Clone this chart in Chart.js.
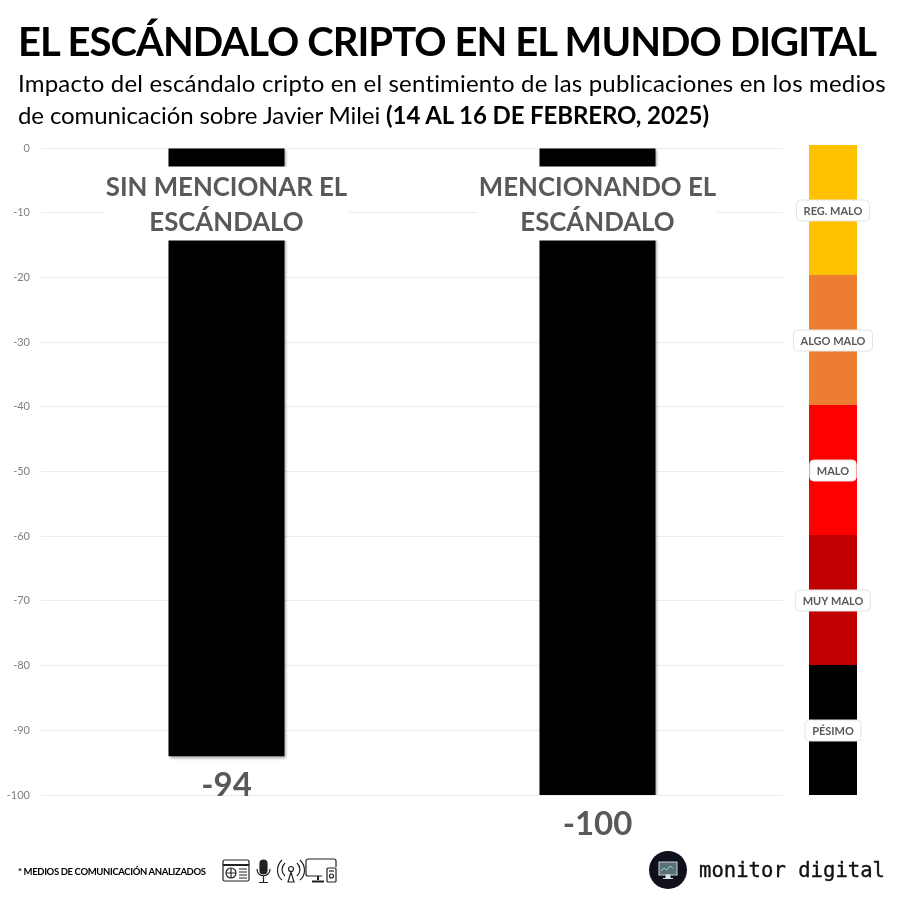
<!DOCTYPE html>
<html><head><meta charset="utf-8">
<script src="https://cdn.jsdelivr.net/npm/chart.js@4/dist/chart.umd.min.js"></script>
<style>
html,body{margin:0;padding:0;background:#fff;width:900px;height:900px;overflow:hidden}
.t{position:absolute;white-space:nowrap;font-family:Lato,sans-serif;color:#000;line-height:1}
canvas{position:absolute}
#wrapMain{position:absolute;left:0;top:0;width:900px;height:900px}
#wrapBand{position:absolute;left:790px;top:0;width:86px;height:900px}
</style></head><body>
<div id="wrapMain"><canvas id="main"></canvas></div>
<div id="wrapBand"><canvas id="band"></canvas></div>
<div class="t fit" data-w="859" style="left:18px;top:21px;font-size:40px;font-weight:700">EL ESCÁNDALO CRIPTO EN EL MUNDO DIGITAL</div>
<div class="t fit" data-w="868" style="left:18px;top:71px;font-size:24px">Impacto del escándalo cripto en el sentimiento de las publicaciones en los medios</div>
<div class="t fit" data-w="691" style="left:18px;top:103px;font-size:24px">de comunicación sobre Javier Milei <b>(14 AL 16 DE FEBRERO, 2025)</b></div>
<div class="t fit" data-w="188" style="left:18px;top:867px;font-size:9.500px;font-weight:700">* MEDIOS DE COMUNICACIÓN ANALIZADOS</div>
<svg style="position:absolute;left:222px;top:858px" width="116" height="26" viewBox="0 0 116 26" fill="none" stroke="#222" stroke-width="1.2">
  <rect x="1" y="2" width="26" height="21" rx="1.5"/><path d="M1 7H27" stroke-width="2"/>
  <circle cx="9" cy="15" r="5"/><path d="M4 15H14M9 10V20"/><path d="M17 11H25M17 14H25M17 17H25M17 20H25"/>
  <rect x="38" y="2" width="7" height="14" rx="3.5" fill="#222"/><path d="M35 11c0 9 13 9 13 0M41.500 18V24M37 24.500H46"/>
  <circle cx="69" cy="11" r="2.500"/><path d="M69 14L66 24H72ZM63 5c-4 4-4 9 0 13M75 5c4 4 4 9 0 13M60 2c-6 6-6 15 0 20M78 2c6 6 6 15 0 20"/>
  <path d="M100 18H86a2 2 0 0 1-2-2V3a2 2 0 0 1 2-2H112a2 2 0 0 1 2 2V9"/><path d="M96 18V22M90 23.500H102" stroke-width="2"/>
  <rect x="105" y="10" width="9" height="14" rx="1"/><circle cx="109.500" cy="18" r="2"/><path d="M107 13H112"/>
</svg>
<svg style="position:absolute;left:649px;top:851px" width="38" height="38" viewBox="0 0 38 38">
  <circle cx="19" cy="19" r="19" fill="#10101c"/>
  <rect x="10" y="11" width="18" height="13" fill="#5b6f78" stroke="#c9d3d6" stroke-width="1"/>
  <path d="M12 20l3-3 3 2 3-4 3 2" stroke="#7fe0d6" fill="none"/>
  <path d="M17 24h4v3h-4zM14 27.500h10" stroke="#dfe5e6" fill="#dfe5e6"/>
</svg>
<div class="t" style="left:699px;top:860px;font-family:'DejaVu Sans Mono',monospace;font-size:20.600px;color:#111;-webkit-text-stroke:.35px #111">monitor digital</div>
<script>
const categories = ["SIN MENCIONAR EL|ESCÁNDALO", "MENCIONANDO EL|ESCÁNDALO"];
const sentimentValues = [-94, -100];
const bandNames = ["REG. MALO", "ALGO MALO", "MALO", "MUY MALO", "PÉSIMO"];
const bandFrom = [0, -20, -40, -60, -80];
const bandTo = [-20, -40, -60, -80, -100];
const bandColors = ["#FFC000", "#ED7D31", "#FF0000", "#C00000", "#000000"];

document.querySelectorAll('.fit').forEach(el=>{
  const target=+el.dataset.w, n=el.textContent.length-1;
  el.style.letterSpacing=((target-el.getBoundingClientRect().width)/n)+'px';
});

const shadowPlugin={id:'barShadow',
  beforeDatasetDraw(c){const x=c.ctx;x.save();x.shadowColor='rgba(0,0,0,.4)';x.shadowBlur=3;x.shadowOffsetX=1.500;x.shadowOffsetY=1.500;},
  afterDatasetDraw(c){c.ctx.restore();}};

const labelPlugin={id:'labels',
  afterDatasetsDraw(c){
    const x=c.ctx, sx=c.scales.x, sy=c.scales.y;
    x.save();x.textAlign='center';x.textBaseline='middle';
    const zeroY=sy.getPixelForValue(0);
    categories.forEach((cat,i)=>{
      const cx=sx.getPixelForValue(i), lines=cat.split('|');
      x.font='700 25.800px Lato, sans-serif';
      const w=Math.max(...lines.map(l=>x.measureText(l).width))+2;
      x.fillStyle='#fff';
      x.fillRect(cx-w/2,zeroY+18.500,w,74);
      x.fillStyle='#595959';
      lines.forEach((l,k)=>x.fillText(l,cx,zeroY+39.500+k*35.500));
      x.font='700 33px Lato, sans-serif';
      x.fillText(String(sentimentValues[i]),cx,sy.getPixelForValue(sentimentValues[i])+29.500);
    });
    x.restore();
  }};

new Chart(document.getElementById('main'),{
  type:'bar',
  plugins:[shadowPlugin,labelPlugin],
  data:{labels:categories,datasets:[{data:sentimentValues,backgroundColor:'#000',categoryPercentage:1,barPercentage:0.3127,borderWidth:0}]},
  options:{responsive:true,maintainAspectRatio:false,animation:false,
    layout:{padding:{left:0,right:117,top:148,bottom:105}},
    plugins:{legend:{display:false},tooltip:{enabled:false}},
    scales:{
      x:{display:false},
      y:{min:-100,max:0,afterFit(s){s.width=41;},
        border:{display:false},
        grid:{color:'#ececec',lineWidth:1,drawTicks:false},
        ticks:{stepSize:10,padding:11,color:'#7f7f7f',font:{family:'Lato, sans-serif',size:11}}}
    }}
});

const bandLabelPlugin={id:'bandLabels',
  afterDatasetsDraw(c){
    const x=c.ctx, sx=c.scales.x, sy=c.scales.y, cx=sx.getPixelForValue(0);
    x.save();x.textAlign='center';x.textBaseline='middle';
    x.font='700 11px Lato, sans-serif';
    bandNames.forEach((n,i)=>{
      const cy=sy.getPixelForValue((bandFrom[i]+bandTo[i])/2)+0.500;
      const w=x.measureText(n).width+14,h=21;
      x.beginPath();x.roundRect(cx-w/2,cy-h/2,w,h,4);
      x.fillStyle='#fff';x.fill();
      x.strokeStyle='#e4e4e4';x.lineWidth=1;x.stroke();
      x.fillStyle='#595959';x.fillText(n,cx,cy+.5);
    });
    x.restore();
  }};

new Chart(document.getElementById('band'),{
  type:'bar',
  plugins:[bandLabelPlugin],
  data:{labels:['escala'],datasets:bandNames.map((n,i)=>({label:n,data:[[bandFrom[i],bandTo[i]]],backgroundColor:bandColors[i],grouped:false,categoryPercentage:1,barPercentage:0.5581,borderWidth:0}))},
  options:{responsive:true,maintainAspectRatio:false,animation:false,
    layout:{padding:{left:0,right:0,top:145,bottom:105}},
    plugins:{legend:{display:false},tooltip:{enabled:false}},
    scales:{x:{display:false},y:{display:false,min:-100,max:0}}}
});
</script>
</body></html>
